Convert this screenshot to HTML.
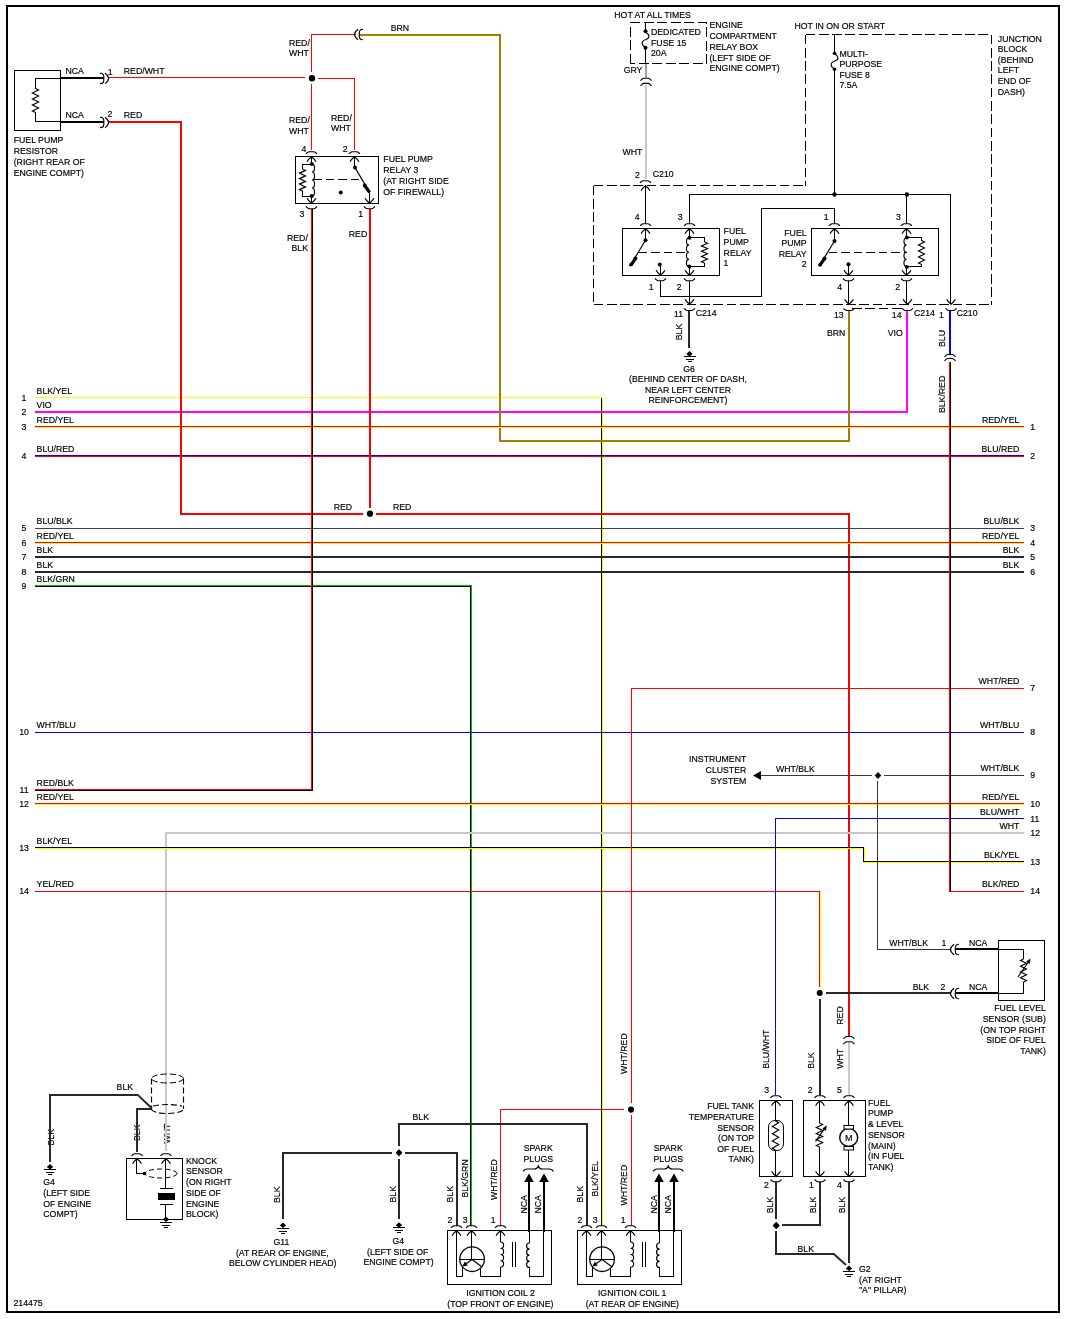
<!DOCTYPE html>
<html lang="en"><head><meta charset="utf-8"><title>Fuel pump / ignition wiring diagram</title>
<style>html,body{margin:0;padding:0;background:#fff}svg{display:block}</style></head>
<body>
<svg width="1065" height="1319" viewBox="0 0 1065 1319">
<rect width="100%" height="100%" fill="#fff"/>
<g shape-rendering="crispEdges">
<rect x="7" y="6" width="1052" height="1306" fill="none" stroke="#000" stroke-width="2"/>
<rect x="35" y="397" width="568" height="1" fill="#ffff00"/>
<rect x="601" y="398" width="1" height="828" fill="#000000"/>
<rect x="602" y="398" width="1" height="828" fill="#ffff00"/>
<rect x="35" y="411" width="873" height="2" fill="#ff00ff"/>
<rect x="906" y="311" width="2" height="102" fill="#ff00ff"/>
<rect x="360" y="34" width="141" height="2" fill="#a87c00"/>
<rect x="499" y="34" width="2" height="408" fill="#a87c00"/>
<rect x="499" y="440" width="351" height="2" fill="#a87c00"/>
<rect x="848" y="311" width="2" height="131" fill="#a87c00"/>
<rect x="35" y="426" width="989" height="1" fill="#ff0000"/>
<rect x="35" y="427" width="989" height="1" fill="#ffff00"/>
<rect x="35" y="455" width="989" height="1" fill="#0000ff"/>
<rect x="35" y="456" width="989" height="1" fill="#ff0000"/>
<rect x="108" y="121" width="74" height="2" fill="#ff0000"/>
<rect x="180" y="121" width="2" height="394" fill="#ff0000"/>
<rect x="180" y="513" width="183" height="2" fill="#ff0000"/>
<rect x="376" y="513" width="474" height="2" fill="#ff0000"/>
<rect x="369" y="209" width="2" height="299" fill="#ff0000"/>
<rect x="848" y="513" width="2" height="523" fill="#ff0000"/>
<rect x="35" y="528" width="989" height="1" fill="#404040"/>
<rect x="35" y="542" width="989" height="1" fill="#ff0000"/>
<rect x="35" y="543" width="989" height="1" fill="#ffff00"/>
<rect x="35" y="556" width="989" height="2" fill="#282828"/>
<rect x="35" y="571" width="989" height="2" fill="#282828"/>
<rect x="35" y="585" width="437" height="1" fill="#00c000"/>
<rect x="35" y="586" width="437" height="1" fill="#000000"/>
<rect x="470" y="586" width="1" height="640" fill="#000000"/>
<rect x="471" y="586" width="1" height="640" fill="#00c000"/>
<rect x="35" y="732" width="989" height="1" fill="#0000ff"/>
<rect x="311" y="209" width="1" height="582" fill="#ff0000"/>
<rect x="312" y="209" width="1" height="582" fill="#000000"/>
<rect x="35" y="789" width="277" height="1" fill="#ff0000"/>
<rect x="35" y="790" width="277" height="1" fill="#000000"/>
<rect x="35" y="803" width="989" height="1" fill="#ff0000"/>
<rect x="35" y="804" width="989" height="1" fill="#ffff00"/>
<rect x="165" y="832" width="859" height="2" fill="#c8c8c8"/>
<rect x="165" y="832" width="2" height="319" fill="#c8c8c8"/>
<rect x="35" y="847" width="830" height="1" fill="#000000"/>
<rect x="35" y="848" width="830" height="1" fill="#ffff00"/>
<rect x="863" y="847" width="1" height="16" fill="#000000"/>
<rect x="864" y="847" width="1" height="16" fill="#ffff00"/>
<rect x="863" y="861" width="161" height="1" fill="#000000"/>
<rect x="863" y="862" width="161" height="1" fill="#ffff00"/>
<rect x="35" y="891" width="786" height="1" fill="#ff0000"/>
<rect x="819" y="891" width="1" height="96" fill="#ff0000"/>
<rect x="820" y="891" width="1" height="96" fill="#ffff00"/>
<rect x="631" y="688" width="393" height="1" fill="#ff0000"/>
<rect x="631" y="688" width="1" height="415" fill="#ff0000"/>
<rect x="631" y="1115" width="1" height="111" fill="#ff0000"/>
<rect x="500" y="1109" width="124" height="1" fill="#ff0000"/>
<rect x="500" y="1109" width="1" height="117" fill="#ff0000"/>
<rect x="760" y="775" width="112" height="1" fill="#383838"/>
<rect x="884" y="775" width="140" height="1" fill="#383838"/>
<rect x="877" y="781" width="1" height="168" fill="#383838"/>
<rect x="877" y="949" width="74" height="1" fill="#383838"/>
<rect x="775" y="818" width="249" height="1" fill="#0000ff"/>
<rect x="775" y="818" width="1" height="277" fill="#0000ff"/>
<rect x="949" y="362" width="1" height="530" fill="#ff0000"/>
<rect x="950" y="362" width="1" height="530" fill="#000000"/>
<rect x="949" y="891" width="75" height="1" fill="#ff0000"/>
<rect x="949" y="311" width="2" height="43" fill="#0000ff"/>
<rect x="14.5" y="70.5" width="46" height="60" fill="none" stroke="#000000" stroke-width="1"/>
<rect x="61" y="77" width="43" height="2" fill="#000000"/>
<rect x="61" y="121" width="43" height="2" fill="#000000"/>
<rect x="35" y="78" width="26" height="1" fill="#000000"/>
<rect x="35" y="78" width="1" height="11" fill="#000000"/>
<rect x="35" y="121" width="26" height="1" fill="#000000"/>
<rect x="35" y="112" width="1" height="10" fill="#000000"/>
<rect x="108" y="77" width="197" height="1" fill="#ff0000"/>
<rect x="318" y="78" width="37" height="1" fill="#ff0000"/>
<rect x="354" y="78" width="1" height="72" fill="#ff0000"/>
<rect x="311" y="34" width="1" height="38" fill="#ff0000"/>
<rect x="311" y="84" width="1" height="66" fill="#ff0000"/>
<rect x="311" y="34" width="45" height="1" fill="#ff0000"/>
<rect x="295.5" y="156.5" width="83" height="47" fill="none" stroke="#000000" stroke-width="1"/>
<rect x="311" y="157" width="1" height="7" fill="#000000"/>
<rect x="311" y="196" width="1" height="7" fill="#000000"/>
<rect x="302" y="164" width="9" height="1" fill="#000000"/>
<rect x="302" y="164" width="1" height="5" fill="#000000"/>
<rect x="302" y="196" width="9" height="1" fill="#000000"/>
<rect x="302" y="191" width="1" height="6" fill="#000000"/>
<rect x="354" y="157" width="1" height="10" fill="#000000"/>
<rect x="369" y="192" width="1" height="11" fill="#000000"/>
<rect x="645" y="23" width="1" height="9" fill="#000000"/>
<rect x="645" y="47" width="1" height="16" fill="#000000"/>
<rect x="645" y="63" width="2" height="15" fill="#a0a0a0"/>
<rect x="645" y="85" width="2" height="94" fill="#c8c8c8"/>
<rect x="834" y="35" width="1" height="18" fill="#000000"/>
<rect x="834" y="69" width="1" height="126" fill="#000000"/>
<rect x="834" y="208" width="1" height="16" fill="#000000"/>
<rect x="834" y="229" width="1" height="12" fill="#000000"/>
<rect x="689" y="194" width="262" height="1" fill="#000000"/>
<rect x="689" y="194" width="1" height="30" fill="#000000"/>
<rect x="950" y="194" width="1" height="110" fill="#000000"/>
<rect x="906" y="194" width="1" height="30" fill="#000000"/>
<rect x="761" y="208" width="74" height="1" fill="#000000"/>
<rect x="761" y="208" width="1" height="89" fill="#000000"/>
<rect x="660" y="296" width="102" height="1" fill="#000000"/>
<rect x="660" y="281" width="1" height="16" fill="#000000"/>
<rect x="645" y="186" width="1" height="38" fill="#000000"/>
<rect x="622.5" y="228.5" width="97" height="47" fill="none" stroke="#000000" stroke-width="1"/>
<rect x="645" y="229" width="1" height="11" fill="#000000"/>
<rect x="660" y="264" width="1" height="11" fill="#000000"/>
<rect x="689" y="229" width="1" height="9" fill="#000000"/>
<rect x="689" y="266" width="1" height="9" fill="#000000"/>
<rect x="689" y="237" width="16" height="1" fill="#000000"/>
<rect x="704" y="237" width="1" height="5" fill="#000000"/>
<rect x="689" y="266" width="16" height="1" fill="#000000"/>
<rect x="704" y="263" width="1" height="4" fill="#000000"/>
<rect x="689" y="281" width="1" height="23" fill="#000000"/>
<rect x="688" y="310" width="2" height="38" fill="#282828"/>
<rect x="683.5" y="356" width="12.0" height="1" fill="#000000"/>
<rect x="685.5" y="359" width="8.0" height="1" fill="#000000"/>
<rect x="687.5" y="361" width="4.0" height="1" fill="#000000"/>
<rect x="811.5" y="228.5" width="127" height="47" fill="none" stroke="#000000" stroke-width="1"/>
<rect x="848" y="264" width="1" height="11" fill="#000000"/>
<rect x="906" y="229" width="1" height="9" fill="#000000"/>
<rect x="906" y="266" width="1" height="9" fill="#000000"/>
<rect x="906" y="237" width="16" height="1" fill="#000000"/>
<rect x="921" y="237" width="1" height="4" fill="#000000"/>
<rect x="906" y="266" width="16" height="1" fill="#000000"/>
<rect x="921" y="264" width="1" height="3" fill="#000000"/>
<rect x="848" y="281" width="1" height="23" fill="#000000"/>
<rect x="906" y="281" width="1" height="23" fill="#000000"/>
<rect x="956" y="948" width="42" height="2" fill="#000000"/>
<rect x="956" y="992" width="42" height="2" fill="#000000"/>
<rect x="998.5" y="940.5" width="46" height="60" fill="none" stroke="#000000" stroke-width="1"/>
<rect x="998" y="949" width="26" height="1" fill="#000000"/>
<rect x="1023" y="949" width="1" height="10" fill="#000000"/>
<rect x="998" y="993" width="26" height="1" fill="#000000"/>
<rect x="1023" y="982" width="1" height="12" fill="#000000"/>
<rect x="826" y="992" width="125" height="2" fill="#282828"/>
<rect x="819" y="999" width="2" height="96" fill="#282828"/>
<rect x="848" y="1042" width="2" height="53" fill="#c8c8c8"/>
<rect x="759.5" y="1100.5" width="33" height="76" fill="none" stroke="#000000" stroke-width="1"/>
<rect x="803.5" y="1100.5" width="62" height="76" fill="none" stroke="#000000" stroke-width="1"/>
<rect x="775" y="1101" width="1" height="20" fill="#000000"/>
<rect x="775" y="1150" width="1" height="26" fill="#000000"/>
<rect x="819" y="1101" width="1" height="22" fill="#000000"/>
<rect x="819" y="1147" width="1" height="29" fill="#000000"/>
<rect x="848" y="1101" width="1" height="25" fill="#000000"/>
<rect x="848" y="1150" width="1" height="26" fill="#000000"/>
<rect x="775" y="1182" width="2" height="37" fill="#282828"/>
<rect x="819" y="1182" width="2" height="44" fill="#282828"/>
<rect x="848" y="1182" width="2" height="81" fill="#282828"/>
<rect x="782" y="1224" width="39" height="2" fill="#282828"/>
<rect x="775" y="1231" width="2" height="24" fill="#282828"/>
<rect x="775" y="1253" width="59" height="2" fill="#282828"/>
<rect x="843" y="1270.5" width="12" height="1" fill="#000000"/>
<rect x="845" y="1273.5" width="8" height="1" fill="#000000"/>
<rect x="847" y="1275.5" width="4" height="1" fill="#000000"/>
<rect x="49" y="1094" width="89" height="2" fill="#282828"/>
<rect x="49" y="1094" width="2" height="68" fill="#282828"/>
<rect x="136" y="1108" width="16" height="2" fill="#282828"/>
<rect x="136" y="1108" width="2" height="44" fill="#282828"/>
<rect x="44" y="1169" width="12" height="1" fill="#000000"/>
<rect x="46" y="1172" width="8" height="1" fill="#000000"/>
<rect x="48" y="1174" width="4" height="1" fill="#000000"/>
<rect x="126.5" y="1158.5" width="56" height="61" fill="none" stroke="#000000" stroke-width="1"/>
<rect x="136" y="1159" width="1" height="15" fill="#000000"/>
<rect x="136" y="1173" width="8" height="1" fill="#000000"/>
<rect x="165" y="1159" width="1" height="30" fill="#000000"/>
<rect x="160" y="1188" width="13" height="1" fill="#000000"/>
<rect x="158" y="1193" width="17" height="7" fill="#000000"/>
<rect x="160" y="1204" width="13" height="1" fill="#000000"/>
<rect x="165" y="1204" width="1" height="15" fill="#000000"/>
<rect x="160" y="1221.5" width="12" height="1" fill="#000000"/>
<rect x="162" y="1224.5" width="8" height="1" fill="#000000"/>
<rect x="164" y="1226.5" width="4" height="1" fill="#000000"/>
<rect x="282" y="1152" width="110" height="2" fill="#282828"/>
<rect x="282" y="1152" width="2" height="67" fill="#282828"/>
<rect x="277" y="1227.5" width="12" height="1" fill="#000000"/>
<rect x="279" y="1230.5" width="8" height="1" fill="#000000"/>
<rect x="281" y="1232.5" width="4" height="1" fill="#000000"/>
<rect x="398" y="1123" width="190" height="2" fill="#282828"/>
<rect x="398" y="1123" width="2" height="23" fill="#282828"/>
<rect x="398" y="1159" width="2" height="60" fill="#282828"/>
<rect x="405" y="1152" width="53" height="2" fill="#282828"/>
<rect x="456" y="1152" width="2" height="74" fill="#282828"/>
<rect x="586" y="1123" width="2" height="103" fill="#282828"/>
<rect x="393" y="1227.2" width="12" height="1" fill="#000000"/>
<rect x="395" y="1230.2" width="8" height="1" fill="#000000"/>
<rect x="397" y="1232.2" width="4" height="1" fill="#000000"/>
<rect x="447.5" y="1230.5" width="104" height="54" fill="none" stroke="#000000" stroke-width="1"/>
<rect x="528" y="1181" width="2" height="51" fill="#000000"/>
<rect x="529" y="1232" width="1" height="11" fill="#000000"/>
<rect x="543" y="1181" width="2" height="51" fill="#000000"/>
<rect x="543" y="1232" width="1" height="11" fill="#000000"/>
<rect x="456" y="1231" width="1" height="46" fill="#000000"/>
<rect x="456" y="1276" width="7" height="1" fill="#000000"/>
<rect x="462" y="1266" width="1" height="11" fill="#000000"/>
<rect x="471" y="1231" width="1" height="28" fill="#000000"/>
<rect x="460" y="1259" width="25" height="1" fill="#000000"/>
<rect x="480" y="1268" width="1" height="9" fill="#000000"/>
<rect x="480" y="1276" width="21" height="1" fill="#000000"/>
<rect x="500" y="1267" width="1" height="10" fill="#000000"/>
<rect x="500" y="1231" width="1" height="11" fill="#000000"/>
<rect x="512" y="1242" width="1" height="25" fill="#000000"/>
<rect x="515" y="1242" width="1" height="25" fill="#000000"/>
<rect x="529" y="1267" width="1" height="10" fill="#000000"/>
<rect x="529" y="1276" width="15" height="1" fill="#000000"/>
<rect x="543" y="1231" width="1" height="46" fill="#000000"/>
<rect x="577.5" y="1230.5" width="104" height="54" fill="none" stroke="#000000" stroke-width="1"/>
<rect x="658" y="1181" width="2" height="51" fill="#000000"/>
<rect x="659" y="1232" width="1" height="11" fill="#000000"/>
<rect x="673" y="1181" width="2" height="51" fill="#000000"/>
<rect x="673" y="1232" width="1" height="11" fill="#000000"/>
<rect x="586" y="1231" width="1" height="46" fill="#000000"/>
<rect x="586" y="1276" width="7" height="1" fill="#000000"/>
<rect x="592" y="1266" width="1" height="11" fill="#000000"/>
<rect x="601" y="1231" width="1" height="28" fill="#000000"/>
<rect x="590" y="1259" width="25" height="1" fill="#000000"/>
<rect x="610" y="1268" width="1" height="9" fill="#000000"/>
<rect x="610" y="1276" width="21" height="1" fill="#000000"/>
<rect x="630" y="1267" width="1" height="10" fill="#000000"/>
<rect x="630" y="1231" width="1" height="11" fill="#000000"/>
<rect x="642" y="1242" width="1" height="25" fill="#000000"/>
<rect x="645" y="1242" width="1" height="25" fill="#000000"/>
<rect x="659" y="1267" width="1" height="10" fill="#000000"/>
<rect x="659" y="1276" width="15" height="1" fill="#000000"/>
<rect x="673" y="1231" width="1" height="46" fill="#000000"/>
</g>
<g stroke-linecap="butt" stroke-linejoin="miter">
<path d="M35.5,88.4 L38.6,89.91 L32.4,92.94 L38.6,95.96 L32.4,98.99 L38.6,102.01 L32.4,105.04 L38.6,108.06 L32.4,111.09 L35.5,112.6" fill="none" stroke="#000000" stroke-width="1.15" />
<path d="M100,73.2 L102,73.4 Q103.8,74.4 103.8,76.4 L103.8,80.4 Q103.8,82.4 102,83.4 L100,83.60000000000001" fill="none" stroke="#000000" stroke-width="1.15" />
<path d="M105,73.2 Q108.6,75.9 108.6,78.4 Q108.6,80.9 105,83.60000000000001" fill="none" stroke="#000000" stroke-width="1.15" />
<path d="M100,117.2 L102,117.4 Q103.8,118.4 103.8,120.4 L103.8,124.4 Q103.8,126.4 102,127.4 L100,127.60000000000001" fill="none" stroke="#000000" stroke-width="1.15" />
<path d="M105,117.2 Q108.6,119.9 108.6,122.4 Q108.6,124.9 105,127.60000000000001" fill="none" stroke="#000000" stroke-width="1.15" />
<circle cx="312" cy="78.3" r="3.2" fill="#000000"/>
<path d="M358.1,29.3 Q354.5,32.0 354.5,34.5 Q354.5,37.0 358.1,39.7" fill="none" stroke="#000000" stroke-width="1.15" />
<path d="M363.1,29.3 L361.1,29.5 Q359.3,30.5 359.3,32.5 L359.3,36.5 Q359.3,38.5 361.1,39.5 L363.1,39.7" fill="none" stroke="#000000" stroke-width="1.15" />
<path d="M306.0,153.9 L307.5,152.5 Q308.3,151.7 309.3,151.7 L313.7,151.7 Q314.7,151.7 315.5,152.5 L317.0,153.9" fill="none" stroke="#000000" stroke-width="1.15" />
<path d="M307.1,161.7 Q308.1,159.5 311.5,156.8 Q314.9,159.5 315.9,161.7" fill="none" stroke="#000000" stroke-width="1.15" />
<path d="M349.0,153.9 L350.5,152.5 Q351.3,151.7 352.3,151.7 L356.7,151.7 Q357.7,151.7 358.5,152.5 L360.0,153.9" fill="none" stroke="#000000" stroke-width="1.15" />
<path d="M350.1,161.7 Q351.1,159.5 354.5,156.8 Q357.9,159.5 358.9,161.7" fill="none" stroke="#000000" stroke-width="1.15" />
<path d="M306.0,206.5 L307.5,207.9 Q308.3,208.70000000000002 309.3,208.70000000000002 L313.7,208.70000000000002 Q314.7,208.70000000000002 315.5,207.9 L317.0,206.5" fill="none" stroke="#000000" stroke-width="1.15" />
<path d="M307.1,198.3 Q308.1,200.5 311.5,203.2 Q314.9,200.5 315.9,198.3" fill="none" stroke="#000000" stroke-width="1.15" />
<path d="M364.0,206.5 L365.5,207.9 Q366.3,208.70000000000002 367.3,208.70000000000002 L371.7,208.70000000000002 Q372.7,208.70000000000002 373.5,207.9 L375.0,206.5" fill="none" stroke="#000000" stroke-width="1.15" />
<path d="M365.1,198.3 Q366.1,200.5 369.5,203.2 Q372.9,200.5 373.9,198.3" fill="none" stroke="#000000" stroke-width="1.15" />
<circle cx="311.7" cy="164" r="2" fill="#000000"/>
<circle cx="311.7" cy="196" r="2" fill="#000000"/>
<path d="M302.5,169 L305.5,170.38 L299.5,173.12 L305.5,175.88 L299.5,178.62 L305.5,181.38 L299.5,184.12 L305.5,186.88 L299.5,189.62 L302.5,191" fill="none" stroke="#000000" stroke-width="1.15" />
<path d="M312,164 C315.38,164.00 315.38,172.00 312,172.00 C315.38,172.00 315.38,180.00 312,180.00 C315.38,180.00 315.38,188.00 312,188.00 C315.38,188.00 315.38,196.00 312,196.00" fill="none" stroke="#000000" stroke-width="1.15" />
<path d="M313,179.5 L362,179.5" fill="none" stroke="#000000" stroke-width="1" stroke-dasharray="8.5 4" shape-rendering="crispEdges"/>
<circle cx="340.8" cy="192.4" r="2" fill="#000000"/>
<circle cx="355" cy="167.6" r="2" fill="#000000"/>
<path d="M355,167.6 L369.6,192.4" fill="none" stroke="#000000" stroke-width="1.15" />
<path d="M364.5,185.3 L369.6,192.4" fill="none" stroke="#000000" stroke-width="3.2" />
<circle cx="364.8" cy="185.6" r="2" fill="#000000"/>
<circle cx="370" cy="513.7" r="3.1" fill="#000000"/>
<path d="M630.5,63.5 L630.5,22.5 L706.5,22.5 L706.5,63.5 L630.5,63.5" fill="none" stroke="#000000" stroke-width="1" stroke-dasharray="10 3.5" shape-rendering="crispEdges"/>
<circle cx="645.5" cy="31.3" r="2" fill="#000000"/>
<circle cx="645.5" cy="47.8" r="2" fill="#000000"/>
<path d="M645.5,32 C650,35 650,38 646,39.5 C641,41 641,45 645.5,47.5" fill="none" stroke="#000000" stroke-width="1.15" />
<path d="M640.5,80.60000000000001 L642,79.10000000000001 Q642.8,78.2 643.8,78.2 L648.2,78.2 Q649.2,78.2 650,79.10000000000001 L651.5,80.60000000000001" fill="none" stroke="#000000" stroke-width="1.15" />
<path d="M640.5,85.80000000000001 L642,84.30000000000001 Q642.8,83.4 643.8,83.4 L648.2,83.4 Q649.2,83.4 650,84.30000000000001 L651.5,85.80000000000001" fill="none" stroke="#000000" stroke-width="1.15" />
<path d="M805.5,34.5 L992,34.5" fill="none" stroke="#000000" stroke-width="1" stroke-dasharray="9.7 3.6" shape-rendering="crispEdges"/>
<path d="M805.5,34.5 L805.5,186" fill="none" stroke="#000000" stroke-width="1" stroke-dasharray="9.7 3.6" shape-rendering="crispEdges"/>
<path d="M991.5,34.5 L991.5,305" fill="none" stroke="#000000" stroke-width="1" stroke-dasharray="9.7 3.6" shape-rendering="crispEdges"/>
<path d="M593.5,185.5 L806,185.5" fill="none" stroke="#000000" stroke-width="1" stroke-dasharray="9.7 3.6" shape-rendering="crispEdges"/>
<path d="M593.5,185.5 L593.5,305" fill="none" stroke="#000000" stroke-width="1" stroke-dasharray="9.7 3.6" shape-rendering="crispEdges"/>
<path d="M593.5,304.5 L992,304.5" fill="none" stroke="#000000" stroke-width="1" stroke-dasharray="9.7 3.6" shape-rendering="crispEdges"/>
<path d="M852,308.5 L903,308.5" fill="none" stroke="#000000" stroke-width="1" stroke-dasharray="9.7 3.6" shape-rendering="crispEdges"/>
<circle cx="834.5" cy="53.3" r="1.8" fill="#000000"/>
<circle cx="834.5" cy="69.2" r="1.8" fill="#000000"/>
<path d="M834.5,53.5 C839,56.5 839,59.5 835,61 C830,62.5 830,66.5 834.5,69" fill="none" stroke="#000000" stroke-width="1.15" />
<circle cx="834.5" cy="194.5" r="2.2" fill="#000000"/>
<circle cx="906.9" cy="194.5" r="2.2" fill="#000000"/>
<path d="M640.0,182.9 L641.5,181.5 Q642.3,180.7 643.3,180.7 L647.7,180.7 Q648.7,180.7 649.5,181.5 L651.0,182.9" fill="none" stroke="#000000" stroke-width="1.15" />
<path d="M641.1,190.7 Q642.1,188.5 645.5,185.8 Q648.9,188.5 649.9,190.7" fill="none" stroke="#000000" stroke-width="1.15" />
<path d="M640.0,225.9 L641.5,224.5 Q642.3,223.7 643.3,223.7 L647.7,223.7 Q648.7,223.7 649.5,224.5 L651.0,225.9" fill="none" stroke="#000000" stroke-width="1.15" />
<path d="M641.1,233.7 Q642.1,231.5 645.5,228.8 Q648.9,231.5 649.9,233.7" fill="none" stroke="#000000" stroke-width="1.15" />
<path d="M684.0,225.9 L685.5,224.5 Q686.3,223.7 687.3,223.7 L691.7,223.7 Q692.7,223.7 693.5,224.5 L695.0,225.9" fill="none" stroke="#000000" stroke-width="1.15" />
<path d="M685.1,233.7 Q686.1,231.5 689.5,228.8 Q692.9,231.5 693.9,233.7" fill="none" stroke="#000000" stroke-width="1.15" />
<path d="M655.0,278.5 L656.5,279.9 Q657.3,280.7 658.3,280.7 L662.7,280.7 Q663.7,280.7 664.5,279.9 L666.0,278.5" fill="none" stroke="#000000" stroke-width="1.15" />
<path d="M656.1,270.3 Q657.1,272.5 660.5,275.2 Q663.9,272.5 664.9,270.3" fill="none" stroke="#000000" stroke-width="1.15" />
<path d="M684.0,278.5 L685.5,279.9 Q686.3,280.7 687.3,280.7 L691.7,280.7 Q692.7,280.7 693.5,279.9 L695.0,278.5" fill="none" stroke="#000000" stroke-width="1.15" />
<path d="M685.1,270.3 Q686.1,272.5 689.5,275.2 Q692.9,272.5 693.9,270.3" fill="none" stroke="#000000" stroke-width="1.15" />
<circle cx="645.5" cy="240.2" r="2" fill="#000000"/>
<path d="M645.5,240.2 L630.6,265" fill="none" stroke="#000000" stroke-width="1.15" />
<path d="M635.6,258.3 L631,265" fill="none" stroke="#000000" stroke-width="3.2" />
<circle cx="635.4" cy="258.6" r="2" fill="#000000"/>
<circle cx="630.8" cy="264.8" r="1.8" fill="#000000"/>
<path d="M638.5,252.5 L689,252.5" fill="none" stroke="#000000" stroke-width="1" stroke-dasharray="8.5 4" shape-rendering="crispEdges"/>
<circle cx="659.8" cy="264.6" r="2" fill="#000000"/>
<circle cx="689.5" cy="237.8" r="2" fill="#000000"/>
<circle cx="689.5" cy="266.5" r="2" fill="#000000"/>
<path d="M689,238 C685.62,238.00 685.62,245.12 689,245.12 C685.62,245.12 685.62,252.25 689,252.25 C685.62,252.25 685.62,259.38 689,259.38 C685.62,259.38 685.62,266.50 689,266.50" fill="none" stroke="#000000" stroke-width="1.15" />
<path d="M704.5,242 L707.5,243.31 L701.5,245.94 L707.5,248.56 L701.5,251.19 L707.5,253.81 L701.5,256.44 L707.5,259.06 L701.5,261.69 L704.5,263" fill="none" stroke="#000000" stroke-width="1.15" />
<path d="M684.0,308.3 L685.5,309.7 Q686.3,310.5 687.3,310.5 L691.7,310.5 Q692.7,310.5 693.5,309.7 L695.0,308.3" fill="none" stroke="#000000" stroke-width="1.15" />
<path d="M685.1,299.3 Q686.1,301.5 689.5,304.2 Q692.9,301.5 693.9,299.3" fill="none" stroke="#000000" stroke-width="1.15" />
<path d="M689.5,351 L692.7,354 L689.5,356.5 L686.3,354 Z" fill="#000"/>
<path d="M829.0,225.9 L830.5,224.5 Q831.3,223.7 832.3,223.7 L836.7,223.7 Q837.7,223.7 838.5,224.5 L840.0,225.9" fill="none" stroke="#000000" stroke-width="1.15" />
<path d="M830.1,233.7 Q831.1,231.5 834.5,228.8 Q837.9,231.5 838.9,233.7" fill="none" stroke="#000000" stroke-width="1.15" />
<path d="M901.0,225.9 L902.5,224.5 Q903.3,223.7 904.3,223.7 L908.7,223.7 Q909.7,223.7 910.5,224.5 L912.0,225.9" fill="none" stroke="#000000" stroke-width="1.15" />
<path d="M902.1,233.7 Q903.1,231.5 906.5,228.8 Q909.9,231.5 910.9,233.7" fill="none" stroke="#000000" stroke-width="1.15" />
<path d="M843.0,278.5 L844.5,279.9 Q845.3,280.7 846.3,280.7 L850.7,280.7 Q851.7,280.7 852.5,279.9 L854.0,278.5" fill="none" stroke="#000000" stroke-width="1.15" />
<path d="M844.1,270.3 Q845.1,272.5 848.5,275.2 Q851.9,272.5 852.9,270.3" fill="none" stroke="#000000" stroke-width="1.15" />
<path d="M901.0,278.5 L902.5,279.9 Q903.3,280.7 904.3,280.7 L908.7,280.7 Q909.7,280.7 910.5,279.9 L912.0,278.5" fill="none" stroke="#000000" stroke-width="1.15" />
<path d="M902.1,270.3 Q903.1,272.5 906.5,275.2 Q909.9,272.5 910.9,270.3" fill="none" stroke="#000000" stroke-width="1.15" />
<circle cx="834.5" cy="241" r="2" fill="#000000"/>
<path d="M834.5,241 L819.7,265.2" fill="none" stroke="#000000" stroke-width="1.15" />
<path d="M824.7,258.3 L820,265.2" fill="none" stroke="#000000" stroke-width="3.2" />
<circle cx="824.5" cy="258.6" r="2" fill="#000000"/>
<circle cx="819.9" cy="265" r="1.8" fill="#000000"/>
<path d="M828.5,252.5 L907,252.5" fill="none" stroke="#000000" stroke-width="1" stroke-dasharray="8.5 4" shape-rendering="crispEdges"/>
<circle cx="848.5" cy="264.3" r="2" fill="#000000"/>
<circle cx="906.9" cy="237.6" r="2" fill="#000000"/>
<circle cx="906.9" cy="266.9" r="2" fill="#000000"/>
<path d="M906.5,238 C903.12,238.00 903.12,245.12 906.5,245.12 C903.12,245.12 903.12,252.25 906.5,252.25 C903.12,252.25 903.12,259.38 906.5,259.38 C903.12,259.38 903.12,266.50 906.5,266.50" fill="none" stroke="#000000" stroke-width="1.15" />
<path d="M921.5,240.5 L924.5,242.00 L918.5,245.00 L924.5,248.00 L918.5,251.00 L924.5,254.00 L918.5,257.00 L924.5,260.00 L918.5,263.00 L921.5,264.5" fill="none" stroke="#000000" stroke-width="1.15" />
<path d="M843.5,308.3 L845.0,309.7 Q845.8,310.5 846.8,310.5 L851.2,310.5 Q852.2,310.5 853.0,309.7 L854.5,308.3" fill="none" stroke="#000000" stroke-width="1.15" />
<path d="M844.6,299.3 Q845.6,301.5 849.0,304.2 Q852.4,301.5 853.4,299.3" fill="none" stroke="#000000" stroke-width="1.15" />
<path d="M902.0,308.3 L903.5,309.7 Q904.3,310.5 905.3,310.5 L909.7,310.5 Q910.7,310.5 911.5,309.7 L913.0,308.3" fill="none" stroke="#000000" stroke-width="1.15" />
<path d="M903.1,299.3 Q904.1,301.5 907.5,304.2 Q910.9,301.5 911.9,299.3" fill="none" stroke="#000000" stroke-width="1.15" />
<path d="M945.5,308.3 L947.0,309.7 Q947.8,310.5 948.8,310.5 L953.2,310.5 Q954.2,310.5 955.0,309.7 L956.5,308.3" fill="none" stroke="#000000" stroke-width="1.15" />
<path d="M946.6,299.3 Q947.6,301.5 951.0,304.2 Q954.4,301.5 955.4,299.3" fill="none" stroke="#000000" stroke-width="1.15" />
<path d="M944.5,356.9 L946,355.4 Q946.8,354.5 947.8,354.5 L952.2,354.5 Q953.2,354.5 954,355.4 L955.5,356.9" fill="none" stroke="#000000" stroke-width="1.15" />
<path d="M944.5,360.9 L946,359.4 Q946.8,358.5 947.8,358.5 L952.2,358.5 Q953.2,358.5 954,359.4 L955.5,360.9" fill="none" stroke="#000000" stroke-width="1.15" />
<path d="M753,775.5 L761,771 L761,780 Z" fill="#000"/>
<path d="M878,772 L881.3,775.5 L878,779 L874.7,775.5 Z" fill="#000"/>
<path d="M954.1,944.3 Q950.5,947.0 950.5,949.5 Q950.5,952.0 954.1,954.7" fill="none" stroke="#000000" stroke-width="1.15" />
<path d="M959.1,944.3 L957.1,944.5 Q955.3,945.5 955.3,947.5 L955.3,951.5 Q955.3,953.5 957.1,954.5 L959.1,954.7" fill="none" stroke="#000000" stroke-width="1.15" />
<path d="M954.1,988.3 Q950.5,991.0 950.5,993.5 Q950.5,996.0 954.1,998.7" fill="none" stroke="#000000" stroke-width="1.15" />
<path d="M959.1,988.3 L957.1,988.5 Q955.3,989.5 955.3,991.5 L955.3,995.5 Q955.3,997.5 957.1,998.5 L959.1,998.7" fill="none" stroke="#000000" stroke-width="1.15" />
<path d="M1023.5,959 L1020.5,960.44 L1026.5,963.31 L1020.5,966.19 L1026.5,969.06 L1020.5,971.94 L1026.5,974.81 L1020.5,977.69 L1026.5,980.56 L1023.5,982" fill="none" stroke="#000000" stroke-width="1.15" />
<path d="M1018,977 L1029,961" fill="none" stroke="#000000" stroke-width="1.15" />
<path d="M1030.5,958.5 L1029.8,964 L1026.2,961.5 Z" fill="#000"/>
<circle cx="819.7" cy="993.1" r="3" fill="#000000"/>
<path d="M843.5,1038.9 L845,1037.4 Q845.8,1036.5 846.8,1036.5 L851.2,1036.5 Q852.2,1036.5 853,1037.4 L854.5,1038.9" fill="none" stroke="#000000" stroke-width="1.15" />
<path d="M843.5,1044.1000000000001 L845,1042.6000000000001 Q845.8,1041.7 846.8,1041.7 L851.2,1041.7 Q852.2,1041.7 853,1042.6000000000001 L854.5,1044.1000000000001" fill="none" stroke="#000000" stroke-width="1.15" />
<path d="M770.5,1097.9 L772.0,1096.5 Q772.8,1095.7 773.8,1095.7 L778.2,1095.7 Q779.2,1095.7 780.0,1096.5 L781.5,1097.9" fill="none" stroke="#000000" stroke-width="1.15" />
<path d="M771.6,1105.7 Q772.6,1103.5 776.0,1100.8 Q779.4,1103.5 780.4,1105.7" fill="none" stroke="#000000" stroke-width="1.15" />
<path d="M770.5,1179.5 L772.0,1180.9 Q772.8,1181.7 773.8,1181.7 L778.2,1181.7 Q779.2,1181.7 780.0,1180.9 L781.5,1179.5" fill="none" stroke="#000000" stroke-width="1.15" />
<path d="M771.6,1171.3 Q772.6,1173.5 776.0,1176.2 Q779.4,1173.5 780.4,1171.3" fill="none" stroke="#000000" stroke-width="1.15" />
<path d="M814.5,1097.9 L816.0,1096.5 Q816.8,1095.7 817.8,1095.7 L822.2,1095.7 Q823.2,1095.7 824.0,1096.5 L825.5,1097.9" fill="none" stroke="#000000" stroke-width="1.15" />
<path d="M815.6,1105.7 Q816.6,1103.5 820.0,1100.8 Q823.4,1103.5 824.4,1105.7" fill="none" stroke="#000000" stroke-width="1.15" />
<path d="M814.5,1179.5 L816.0,1180.9 Q816.8,1181.7 817.8,1181.7 L822.2,1181.7 Q823.2,1181.7 824.0,1180.9 L825.5,1179.5" fill="none" stroke="#000000" stroke-width="1.15" />
<path d="M815.6,1171.3 Q816.6,1173.5 820.0,1176.2 Q823.4,1173.5 824.4,1171.3" fill="none" stroke="#000000" stroke-width="1.15" />
<path d="M843.5,1097.9 L845.0,1096.5 Q845.8,1095.7 846.8,1095.7 L851.2,1095.7 Q852.2,1095.7 853.0,1096.5 L854.5,1097.9" fill="none" stroke="#000000" stroke-width="1.15" />
<path d="M844.6,1105.7 Q845.6,1103.5 849.0,1100.8 Q852.4,1103.5 853.4,1105.7" fill="none" stroke="#000000" stroke-width="1.15" />
<path d="M843.5,1179.5 L845.0,1180.9 Q845.8,1181.7 846.8,1181.7 L851.2,1181.7 Q852.2,1181.7 853.0,1180.9 L854.5,1179.5" fill="none" stroke="#000000" stroke-width="1.15" />
<path d="M844.6,1171.3 Q845.6,1173.5 849.0,1176.2 Q852.4,1173.5 853.4,1171.3" fill="none" stroke="#000000" stroke-width="1.15" />
<rect x="768.5" y="1120.5" width="15" height="30" rx="6.5" ry="6.5" fill="none" stroke="#000"/>
<path d="M775.5,1121 L778.7,1122.81 L772.3,1126.44 L778.7,1130.06 L772.3,1133.69 L778.7,1137.31 L772.3,1140.94 L778.7,1144.56 L772.3,1148.19 L775.5,1150" fill="none" stroke="#000000" stroke-width="1.15" />
<path d="M819.5,1123 L822.7,1124.50 L816.3,1127.50 L822.7,1130.50 L816.3,1133.50 L822.7,1136.50 L816.3,1139.50 L822.7,1142.50 L816.3,1145.50 L819.5,1147" fill="none" stroke="#000000" stroke-width="1.15" />
<path d="M815.5,1141.5 L825,1128" fill="none" stroke="#000000" stroke-width="1.15" />
<path d="M826.8,1125.2 L826,1131 L822.4,1128.4 Z" fill="#000"/>
<circle cx="848.7" cy="1137.5" r="9" fill="#fff" stroke="#000" stroke-width="1.4"/>
<rect x="844" y="1125.5" width="9.5" height="3.5" fill="#fff" stroke="#000"/>
<rect x="844" y="1146.5" width="9.5" height="3.5" fill="#fff" stroke="#000"/>
<path d="M776.2,1221.8 L779.8,1225.5 L776.2,1229.3 L772.6,1225.5 Z" fill="#000"/>
<path d="M833.5,1253.8 L846,1265" fill="none" stroke="#282828" stroke-width="2" />
<path d="M849,1265.5 L852.2,1268.5 L849,1271.0 L845.8,1268.5 Z" fill="#000"/>
<path d="M151.5,1078.5 L151.5,1109 M183.5,1078.5 L183.5,1109" fill="none" stroke="#000000" stroke-width="1.15" stroke-dasharray="6 3"/>
<ellipse cx="167.5" cy="1078.5" rx="16" ry="4.5" fill="none" stroke="#000" stroke-dasharray="6 3"/>
<path d="M151.5,1109 A16,4.5 0 0 0 183.5,1109" fill="none" stroke="#000000" stroke-width="1.15" stroke-dasharray="6 3"/>
<path d="M153,1106 Q167.5,1103 182,1106" fill="none" stroke="#000000" stroke-width="1.15" stroke-dasharray="6 3"/>
<path d="M137.5,1094.6 L152,1108.5" fill="none" stroke="#282828" stroke-width="2" />
<path d="M50,1164 L53.2,1167 L50,1169.5 L46.8,1167 Z" fill="#000"/>
<path d="M131.5,1155.9 L133,1154.5 Q133.8,1153.7 134.8,1153.7 L139.2,1153.7 Q140.2,1153.7 141,1154.5 L142.5,1155.9" fill="none" stroke="#000000" stroke-width="1.15" />
<path d="M132.6,1163.7 Q133.6,1161.5 137,1158.8 Q140.4,1161.5 141.4,1163.7" fill="none" stroke="#000000" stroke-width="1.15" />
<path d="M160.5,1155.9 L162,1154.5 Q162.8,1153.7 163.8,1153.7 L168.2,1153.7 Q169.2,1153.7 170,1154.5 L171.5,1155.9" fill="none" stroke="#000000" stroke-width="1.15" />
<path d="M161.6,1163.7 Q162.6,1161.5 166,1158.8 Q169.4,1161.5 170.4,1163.7" fill="none" stroke="#000000" stroke-width="1.15" />
<circle cx="144.5" cy="1173.5" r="1.8" fill="#000000"/>
<ellipse cx="161" cy="1173.5" rx="16" ry="4.5" fill="none" stroke="#000" stroke-dasharray="5 3"/>
<path d="M166,1216.5 L169.2,1219.5 L166,1222.0 L162.8,1219.5 Z" fill="#000"/>
<path d="M283,1222.5 L286.2,1225.5 L283,1228.0 L279.8,1225.5 Z" fill="#000"/>
<path d="M399,1149 L402.4,1152.8 L399,1156.4 L395.6,1152.8 Z" fill="#000"/>
<path d="M399,1222.2 L402.2,1225.2 L399,1227.7 L395.8,1225.2 Z" fill="#000"/>
<circle cx="631" cy="1109.6" r="3.1" fill="#000000"/>
<path d="M451.0,1227.9 L452.5,1226.5 Q453.3,1225.7 454.3,1225.7 L458.7,1225.7 Q459.7,1225.7 460.5,1226.5 L462.0,1227.9" fill="none" stroke="#000000" stroke-width="1.15" />
<path d="M452.1,1235.7 Q453.1,1233.5 456.5,1230.8 Q459.9,1233.5 460.9,1235.7" fill="none" stroke="#000000" stroke-width="1.15" />
<path d="M466.0,1227.9 L467.5,1226.5 Q468.3,1225.7 469.3,1225.7 L473.7,1225.7 Q474.7,1225.7 475.5,1226.5 L477.0,1227.9" fill="none" stroke="#000000" stroke-width="1.15" />
<path d="M467.1,1235.7 Q468.1,1233.5 471.5,1230.8 Q474.9,1233.5 475.9,1235.7" fill="none" stroke="#000000" stroke-width="1.15" />
<path d="M495.0,1227.9 L496.5,1226.5 Q497.3,1225.7 498.3,1225.7 L502.7,1225.7 Q503.7,1225.7 504.5,1226.5 L506.0,1227.9" fill="none" stroke="#000000" stroke-width="1.15" />
<path d="M496.1,1235.7 Q497.1,1233.5 500.5,1230.8 Q503.9,1233.5 504.9,1235.7" fill="none" stroke="#000000" stroke-width="1.15" />
<path d="M529,1173.5 L533.8,1182 L524.2,1182 Z" fill="#000"/>
<path d="M544,1173.5 L548.8,1182 L539.2,1182 Z" fill="#000"/>
<path d="M523.25,1171.5 Q524.25,1169 527.25,1169 L534.25,1169 Q537.25,1169 538.25,1166 Q539.25,1169 542.25,1169 L549.25,1169 Q552.25,1169 553.25,1171.5" fill="none" stroke="#000000" stroke-width="1.15" />
<circle cx="472.1" cy="1259.2" r="12.3" fill="none" stroke="#000" stroke-width="1.3"/>
<path d="M472.1,1259.5 L482.40000000000003,1267.2" fill="none" stroke="#000000" stroke-width="1.15" />
<path d="M472.1,1259.5 L464.1,1265" fill="none" stroke="#000000" stroke-width="1.15" />
<path d="M462.3,1266.6 L467.70000000000005,1265.6 L464.90000000000003,1261.6 Z" fill="#000"/>
<path d="M500.5,1242 C504.66,1242.00 504.66,1248.25 500.5,1248.25 C504.66,1248.25 504.66,1254.50 500.5,1254.50 C504.66,1254.50 504.66,1260.75 500.5,1260.75 C504.66,1260.75 504.66,1267.00 500.5,1267.00" fill="none" stroke="#000000" stroke-width="1.15" />
<path d="M529.5,1243 C525.6,1243.00 525.6,1249.12 529.5,1249.12 C525.6,1249.12 525.6,1255.25 529.5,1255.25 C525.6,1255.25 525.6,1261.38 529.5,1261.38 C525.6,1261.38 525.6,1267.50 529.5,1267.50" fill="none" stroke="#000000" stroke-width="1.15" />
<path d="M581.0,1227.9 L582.5,1226.5 Q583.3,1225.7 584.3,1225.7 L588.7,1225.7 Q589.7,1225.7 590.5,1226.5 L592.0,1227.9" fill="none" stroke="#000000" stroke-width="1.15" />
<path d="M582.1,1235.7 Q583.1,1233.5 586.5,1230.8 Q589.9,1233.5 590.9,1235.7" fill="none" stroke="#000000" stroke-width="1.15" />
<path d="M596.0,1227.9 L597.5,1226.5 Q598.3,1225.7 599.3,1225.7 L603.7,1225.7 Q604.7,1225.7 605.5,1226.5 L607.0,1227.9" fill="none" stroke="#000000" stroke-width="1.15" />
<path d="M597.1,1235.7 Q598.1,1233.5 601.5,1230.8 Q604.9,1233.5 605.9,1235.7" fill="none" stroke="#000000" stroke-width="1.15" />
<path d="M625.0,1227.9 L626.5,1226.5 Q627.3,1225.7 628.3,1225.7 L632.7,1225.7 Q633.7,1225.7 634.5,1226.5 L636.0,1227.9" fill="none" stroke="#000000" stroke-width="1.15" />
<path d="M626.1,1235.7 Q627.1,1233.5 630.5,1230.8 Q633.9,1233.5 634.9,1235.7" fill="none" stroke="#000000" stroke-width="1.15" />
<path d="M659,1173.5 L663.8,1182 L654.2,1182 Z" fill="#000"/>
<path d="M674,1173.5 L678.8,1182 L669.2,1182 Z" fill="#000"/>
<path d="M653.25,1171.5 Q654.25,1169 657.25,1169 L664.25,1169 Q667.25,1169 668.25,1166 Q669.25,1169 672.25,1169 L679.25,1169 Q682.25,1169 683.25,1171.5" fill="none" stroke="#000000" stroke-width="1.15" />
<circle cx="602.1" cy="1259.2" r="12.3" fill="none" stroke="#000" stroke-width="1.3"/>
<path d="M602.1,1259.5 L612.4,1267.2" fill="none" stroke="#000000" stroke-width="1.15" />
<path d="M602.1,1259.5 L594.1,1265" fill="none" stroke="#000000" stroke-width="1.15" />
<path d="M592.3000000000001,1266.6 L597.7,1265.6 L594.9,1261.6 Z" fill="#000"/>
<path d="M630.5,1242 C634.66,1242.00 634.66,1248.25 630.5,1248.25 C634.66,1248.25 634.66,1254.50 630.5,1254.50 C634.66,1254.50 634.66,1260.75 630.5,1260.75 C634.66,1260.75 634.66,1267.00 630.5,1267.00" fill="none" stroke="#000000" stroke-width="1.15" />
<path d="M659.5,1243 C655.6,1243.00 655.6,1249.12 659.5,1249.12 C655.6,1249.12 655.6,1255.25 659.5,1255.25 C655.6,1255.25 655.6,1261.38 659.5,1261.38 C655.6,1261.38 655.6,1267.50 659.5,1267.50" fill="none" stroke="#000000" stroke-width="1.15" />
</g>
<g font-family="'Liberation Sans', Arial, sans-serif" font-size="9.7" fill="#000" stroke="#000" stroke-width="0.2" opacity="0.999">
<text transform="translate(36.6,394) scale(0.9,1)">BLK/YEL</text>
<text transform="translate(24,401) scale(0.9,1)" text-anchor="middle">1</text>
<text transform="translate(36.6,408) scale(0.9,1)">VIO</text>
<text transform="translate(24,415) scale(0.9,1)" text-anchor="middle">2</text>
<text transform="translate(36.6,423) scale(0.9,1)">RED/YEL</text>
<text transform="translate(24,430) scale(0.9,1)" text-anchor="middle">3</text>
<text transform="translate(36.6,452) scale(0.9,1)">BLU/RED</text>
<text transform="translate(24,459) scale(0.9,1)" text-anchor="middle">4</text>
<text transform="translate(36.6,524) scale(0.9,1)">BLU/BLK</text>
<text transform="translate(24,531) scale(0.9,1)" text-anchor="middle">5</text>
<text transform="translate(36.6,539) scale(0.9,1)">RED/YEL</text>
<text transform="translate(24,546) scale(0.9,1)" text-anchor="middle">6</text>
<text transform="translate(36.6,553) scale(0.9,1)">BLK</text>
<text transform="translate(24,560) scale(0.9,1)" text-anchor="middle">7</text>
<text transform="translate(36.6,568) scale(0.9,1)">BLK</text>
<text transform="translate(24,575) scale(0.9,1)" text-anchor="middle">8</text>
<text transform="translate(36.6,582) scale(0.9,1)">BLK/GRN</text>
<text transform="translate(24,589) scale(0.9,1)" text-anchor="middle">9</text>
<text transform="translate(36.6,728) scale(0.9,1)">WHT/BLU</text>
<text transform="translate(24,735) scale(0.9,1)" text-anchor="middle">10</text>
<text transform="translate(36.6,786) scale(0.9,1)">RED/BLK</text>
<text transform="translate(24,793) scale(0.9,1)" text-anchor="middle">11</text>
<text transform="translate(36.6,800) scale(0.9,1)">RED/YEL</text>
<text transform="translate(24,807) scale(0.9,1)" text-anchor="middle">12</text>
<text transform="translate(36.6,844) scale(0.9,1)">BLK/YEL</text>
<text transform="translate(24,851) scale(0.9,1)" text-anchor="middle">13</text>
<text transform="translate(36.6,887) scale(0.9,1)">YEL/RED</text>
<text transform="translate(24,894) scale(0.9,1)" text-anchor="middle">14</text>
<text transform="translate(1019.3,423) scale(0.9,1)" text-anchor="end">RED/YEL</text>
<text transform="translate(1030.3,430) scale(0.9,1)">1</text>
<text transform="translate(1019.3,452) scale(0.9,1)" text-anchor="end">BLU/RED</text>
<text transform="translate(1030.3,459) scale(0.9,1)">2</text>
<text transform="translate(1019.3,524) scale(0.9,1)" text-anchor="end">BLU/BLK</text>
<text transform="translate(1030.3,531) scale(0.9,1)">3</text>
<text transform="translate(1019.3,539) scale(0.9,1)" text-anchor="end">RED/YEL</text>
<text transform="translate(1030.3,546) scale(0.9,1)">4</text>
<text transform="translate(1019.3,553) scale(0.9,1)" text-anchor="end">BLK</text>
<text transform="translate(1030.3,560) scale(0.9,1)">5</text>
<text transform="translate(1019.3,568) scale(0.9,1)" text-anchor="end">BLK</text>
<text transform="translate(1030.3,575) scale(0.9,1)">6</text>
<text transform="translate(1019.3,684) scale(0.9,1)" text-anchor="end">WHT/RED</text>
<text transform="translate(1030.3,691) scale(0.9,1)">7</text>
<text transform="translate(1019.3,728) scale(0.9,1)" text-anchor="end">WHT/BLU</text>
<text transform="translate(1030.3,735) scale(0.9,1)">8</text>
<text transform="translate(1019.3,771) scale(0.9,1)" text-anchor="end">WHT/BLK</text>
<text transform="translate(1030.3,778) scale(0.9,1)">9</text>
<text transform="translate(1019.3,800) scale(0.9,1)" text-anchor="end">RED/YEL</text>
<text transform="translate(1030.3,807) scale(0.9,1)">10</text>
<text transform="translate(1019.3,815) scale(0.9,1)" text-anchor="end">BLU/WHT</text>
<text transform="translate(1030.3,822) scale(0.9,1)">11</text>
<text transform="translate(1019.3,829) scale(0.9,1)" text-anchor="end">WHT</text>
<text transform="translate(1030.3,836) scale(0.9,1)">12</text>
<text transform="translate(1019.3,858) scale(0.9,1)" text-anchor="end">BLK/YEL</text>
<text transform="translate(1030.3,865) scale(0.9,1)">13</text>
<text transform="translate(1019.3,887) scale(0.9,1)" text-anchor="end">BLK/RED</text>
<text transform="translate(1030.3,894) scale(0.9,1)">14</text>
<text transform="translate(65.5,74) scale(0.9,1)">NCA</text>
<text transform="translate(65.5,118) scale(0.9,1)">NCA</text>
<text transform="translate(107.8,75) scale(0.9,1)">1</text>
<text transform="translate(107.6,117) scale(0.9,1)">2</text>
<text transform="translate(123.8,74) scale(0.9,1)">RED/WHT</text>
<text transform="translate(123.8,118) scale(0.9,1)">RED</text>
<text transform="translate(13.7,143) scale(0.9,1)">FUEL PUMP</text>
<text transform="translate(13.7,154) scale(0.9,1)">RESISTOR</text>
<text transform="translate(13.7,165) scale(0.9,1)">(RIGHT REAR OF</text>
<text transform="translate(13.7,176) scale(0.9,1)">ENGINE COMPT)</text>
<text transform="translate(390.7,31) scale(0.9,1)">BRN</text>
<text transform="translate(289,46) scale(0.9,1)">RED/</text>
<text transform="translate(289,56) scale(0.9,1)">WHT</text>
<text transform="translate(289,123) scale(0.9,1)">RED/</text>
<text transform="translate(289,134) scale(0.9,1)">WHT</text>
<text transform="translate(331,121) scale(0.9,1)">RED/</text>
<text transform="translate(331,131) scale(0.9,1)">WHT</text>
<text transform="translate(301.5,152) scale(0.9,1)">4</text>
<text transform="translate(342.8,152) scale(0.9,1)">2</text>
<text transform="translate(383.3,162) scale(0.9,1)">FUEL PUMP</text>
<text transform="translate(383.3,173) scale(0.9,1)">RELAY 3</text>
<text transform="translate(383.3,184) scale(0.9,1)">(AT RIGHT SIDE</text>
<text transform="translate(383.3,195) scale(0.9,1)">OF FIREWALL)</text>
<text transform="translate(299.5,217) scale(0.9,1)">3</text>
<text transform="translate(358.3,217) scale(0.9,1)">1</text>
<text transform="translate(287,241) scale(0.9,1)">RED/</text>
<text transform="translate(291.5,251) scale(0.9,1)">BLK</text>
<text transform="translate(348.8,237) scale(0.9,1)">RED</text>
<text transform="translate(333.7,510) scale(0.9,1)">RED</text>
<text transform="translate(392.9,510) scale(0.9,1)">RED</text>
<text transform="translate(614.3,18) scale(0.9,1)">HOT AT ALL TIMES</text>
<text transform="translate(651,35) scale(0.9,1)">DEDICATED</text>
<text transform="translate(651,46) scale(0.9,1)">FUSE 15</text>
<text transform="translate(651,56) scale(0.9,1)">20A</text>
<text transform="translate(709.4,28) scale(0.9,1)">ENGINE</text>
<text transform="translate(709.4,39) scale(0.9,1)">COMPARTMENT</text>
<text transform="translate(709.4,50) scale(0.9,1)">RELAY BOX</text>
<text transform="translate(709.4,61) scale(0.9,1)">(LEFT SIDE OF</text>
<text transform="translate(709.4,71) scale(0.9,1)">ENGINE COMPT)</text>
<text transform="translate(623.7,73) scale(0.9,1)">GRY</text>
<text transform="translate(622.4,155) scale(0.9,1)">WHT</text>
<text transform="translate(635,178) scale(0.9,1)">2</text>
<text transform="translate(652.8,177) scale(0.9,1)">C210</text>
<text transform="translate(794.5,29) scale(0.9,1)">HOT IN ON OR START</text>
<text transform="translate(997.8,42) scale(0.9,1)">JUNCTION</text>
<text transform="translate(997.8,52) scale(0.9,1)">BLOCK</text>
<text transform="translate(997.8,63) scale(0.9,1)">(BEHIND</text>
<text transform="translate(997.8,73) scale(0.9,1)">LEFT</text>
<text transform="translate(997.8,84) scale(0.9,1)">END OF</text>
<text transform="translate(997.8,95) scale(0.9,1)">DASH)</text>
<text transform="translate(839.4,57) scale(0.9,1)">MULTI-</text>
<text transform="translate(839.4,67) scale(0.9,1)">PURPOSE</text>
<text transform="translate(839.4,78) scale(0.9,1)">FUSE 8</text>
<text transform="translate(839.4,88) scale(0.9,1)">7.5A</text>
<text transform="translate(634.7,220) scale(0.9,1)">4</text>
<text transform="translate(677.7,220) scale(0.9,1)">3</text>
<text transform="translate(648.8,290) scale(0.9,1)">1</text>
<text transform="translate(676.7,290) scale(0.9,1)">2</text>
<text transform="translate(723.6,234) scale(0.9,1)">FUEL</text>
<text transform="translate(723.6,245) scale(0.9,1)">PUMP</text>
<text transform="translate(723.6,256) scale(0.9,1)">RELAY</text>
<text transform="translate(723.6,266) scale(0.9,1)">1</text>
<text transform="translate(674,317) scale(0.9,1)">11</text>
<text transform="translate(695.7,316) scale(0.9,1)">C214</text>
<text transform="translate(682,340.2) rotate(-90) scale(0.9,1)">BLK</text>
<text transform="translate(689,372) scale(0.9,1)" text-anchor="middle">G6</text>
<text transform="translate(688,382) scale(0.9,1)" text-anchor="middle">(BEHIND CENTER OF DASH,</text>
<text transform="translate(688,393) scale(0.9,1)" text-anchor="middle">NEAR LEFT CENTER</text>
<text transform="translate(688,403) scale(0.9,1)" text-anchor="middle">REINFORCEMENT)</text>
<text transform="translate(823.8,220) scale(0.9,1)">1</text>
<text transform="translate(895.9,220) scale(0.9,1)">3</text>
<text transform="translate(837.3,290) scale(0.9,1)">4</text>
<text transform="translate(895.2,290) scale(0.9,1)">2</text>
<text transform="translate(806.6,236) scale(0.9,1)" text-anchor="end">FUEL</text>
<text transform="translate(806.6,246) scale(0.9,1)" text-anchor="end">PUMP</text>
<text transform="translate(806.6,257) scale(0.9,1)" text-anchor="end">RELAY</text>
<text transform="translate(806.6,267) scale(0.9,1)" text-anchor="end">2</text>
<text transform="translate(834,318) scale(0.9,1)">13</text>
<text transform="translate(891.8,318) scale(0.9,1)">14</text>
<text transform="translate(914,316) scale(0.9,1)">C214</text>
<text transform="translate(939,318) scale(0.9,1)">1</text>
<text transform="translate(956.7,316) scale(0.9,1)">C210</text>
<text transform="translate(827,336) scale(0.9,1)">BRN</text>
<text transform="translate(887.8,336) scale(0.9,1)">VIO</text>
<text transform="translate(945,347) rotate(-90) scale(0.9,1)">BLU</text>
<text transform="translate(945,413) rotate(-90) scale(0.9,1)">BLK/RED</text>
<text transform="translate(746.3,762) scale(0.9,1)" text-anchor="end">INSTRUMENT</text>
<text transform="translate(746.3,773) scale(0.9,1)" text-anchor="end">CLUSTER</text>
<text transform="translate(746.3,784) scale(0.9,1)" text-anchor="end">SYSTEM</text>
<text transform="translate(776,772) scale(0.9,1)">WHT/BLK</text>
<text transform="translate(889.2,946) scale(0.9,1)">WHT/BLK</text>
<text transform="translate(941.4,946) scale(0.9,1)">1</text>
<text transform="translate(968.9,946) scale(0.9,1)">NCA</text>
<text transform="translate(912.7,990) scale(0.9,1)">BLK</text>
<text transform="translate(940.5,990) scale(0.9,1)">2</text>
<text transform="translate(968.9,990) scale(0.9,1)">NCA</text>
<text transform="translate(1045.8,1011) scale(0.9,1)" text-anchor="end">FUEL LEVEL</text>
<text transform="translate(1045.8,1022) scale(0.9,1)" text-anchor="end">SENSOR (SUB)</text>
<text transform="translate(1045.8,1033) scale(0.9,1)" text-anchor="end">(ON TOP RIGHT</text>
<text transform="translate(1045.8,1043) scale(0.9,1)" text-anchor="end">SIDE OF FUEL</text>
<text transform="translate(1045.8,1054) scale(0.9,1)" text-anchor="end">TANK)</text>
<text transform="translate(843,1024.7) rotate(-90) scale(0.9,1)">RED</text>
<text transform="translate(843,1068.8) rotate(-90) scale(0.9,1)">WHT</text>
<text transform="translate(814,1068.8) rotate(-90) scale(0.9,1)">BLK</text>
<text transform="translate(769,1068.8) rotate(-90) scale(0.9,1)">BLU/WHT</text>
<text transform="translate(764.2,1093) scale(0.9,1)">3</text>
<text transform="translate(807.8,1093) scale(0.9,1)">2</text>
<text transform="translate(837,1093) scale(0.9,1)">5</text>
<text transform="translate(754,1109) scale(0.9,1)" text-anchor="end">FUEL TANK</text>
<text transform="translate(754,1120) scale(0.9,1)" text-anchor="end">TEMPERATURE</text>
<text transform="translate(754,1131) scale(0.9,1)" text-anchor="end">SENSOR</text>
<text transform="translate(754,1141) scale(0.9,1)" text-anchor="end">(ON TOP</text>
<text transform="translate(754,1152) scale(0.9,1)" text-anchor="end">OF FUEL</text>
<text transform="translate(754,1162) scale(0.9,1)" text-anchor="end">TANK)</text>
<text transform="translate(868,1106) scale(0.9,1)">FUEL</text>
<text transform="translate(868,1116) scale(0.9,1)">PUMP</text>
<text transform="translate(868,1127) scale(0.9,1)">&amp; LEVEL</text>
<text transform="translate(868,1138) scale(0.9,1)">SENSOR</text>
<text transform="translate(868,1149) scale(0.9,1)">(MAIN)</text>
<text transform="translate(868,1159) scale(0.9,1)">(IN FUEL</text>
<text transform="translate(868,1170) scale(0.9,1)">TANK)</text>
<text transform="translate(848.8,1141) scale(0.95,1)" text-anchor="middle" font-size="9.5">M</text>
<text transform="translate(764,1188) scale(0.9,1)">2</text>
<text transform="translate(809,1188) scale(0.9,1)">1</text>
<text transform="translate(837,1188) scale(0.9,1)">4</text>
<text transform="translate(773,1213.3) rotate(-90) scale(0.9,1)">BLK</text>
<text transform="translate(816,1213.3) rotate(-90) scale(0.9,1)">BLK</text>
<text transform="translate(845,1213.3) rotate(-90) scale(0.9,1)">BLK</text>
<text transform="translate(797.5,1252) scale(0.9,1)">BLK</text>
<text transform="translate(859,1272) scale(0.9,1)">G2</text>
<text transform="translate(859,1283) scale(0.9,1)">(AT RIGHT</text>
<text transform="translate(859,1293) scale(0.9,1)">&quot;A&quot; PILLAR)</text>
<text transform="translate(116.6,1090) scale(0.9,1)">BLK</text>
<text transform="translate(54,1145.5) rotate(-90) scale(0.9,1)">BLK</text>
<text transform="translate(140,1141) rotate(-90) scale(0.9,1)">BLK</text>
<text transform="translate(170,1143.5) rotate(-90) scale(0.9,1)">WHT</text>
<text transform="translate(43.3,1185) scale(0.9,1)">G4</text>
<text transform="translate(43.3,1196) scale(0.9,1)">(LEFT SIDE</text>
<text transform="translate(43.3,1207) scale(0.9,1)">OF ENGINE</text>
<text transform="translate(43.3,1217) scale(0.9,1)">COMPT)</text>
<text transform="translate(186,1164) scale(0.9,1)">KNOCK</text>
<text transform="translate(186,1174) scale(0.9,1)">SENSOR</text>
<text transform="translate(186,1185) scale(0.9,1)">(ON RIGHT</text>
<text transform="translate(186,1196) scale(0.9,1)">SIDE OF</text>
<text transform="translate(186,1207) scale(0.9,1)">ENGINE</text>
<text transform="translate(186,1217) scale(0.9,1)">BLOCK)</text>
<text transform="translate(281.5,1245) scale(0.9,1)" text-anchor="middle">G11</text>
<text transform="translate(282.3,1256) scale(0.9,1)" text-anchor="middle">(AT REAR OF ENGINE,</text>
<text transform="translate(282.7,1266) scale(0.9,1)" text-anchor="middle">BELOW CYLINDER HEAD)</text>
<text transform="translate(280,1203) rotate(-90) scale(0.9,1)">BLK</text>
<text transform="translate(412.5,1120) scale(0.9,1)">BLK</text>
<text transform="translate(398.3,1244) scale(0.9,1)" text-anchor="middle">G4</text>
<text transform="translate(397.7,1255) scale(0.9,1)" text-anchor="middle">(LEFT SIDE OF</text>
<text transform="translate(398.5,1265) scale(0.9,1)" text-anchor="middle">ENGINE COMPT)</text>
<text transform="translate(396,1202.5) rotate(-90) scale(0.9,1)">BLK</text>
<text transform="translate(627,1074) rotate(-90) scale(0.9,1)">WHT/RED</text>
<text transform="translate(447.5,1223) scale(0.9,1)">2</text>
<text transform="translate(462.7,1223) scale(0.9,1)">3</text>
<text transform="translate(490.8,1223) scale(0.9,1)">1</text>
<text transform="translate(538.25,1151) scale(0.9,1)" text-anchor="middle">SPARK</text>
<text transform="translate(538.25,1162) scale(0.9,1)" text-anchor="middle">PLUGS</text>
<text transform="translate(527,1213.5) rotate(-90) scale(0.9,1)">NCA</text>
<text transform="translate(541,1213.5) rotate(-90) scale(0.9,1)">NCA</text>
<text transform="translate(453,1202.5) rotate(-90) scale(0.9,1)">BLK</text>
<text transform="translate(468,1197.6) rotate(-90) scale(0.9,1)">BLK/GRN</text>
<text transform="translate(497,1200) rotate(-90) scale(0.9,1)">WHT/RED</text>
<text transform="translate(500.5,1296) scale(0.9,1)" text-anchor="middle">IGNITION COIL 2</text>
<text transform="translate(500.3,1307) scale(0.9,1)" text-anchor="middle">(TOP FRONT OF ENGINE)</text>
<text transform="translate(577.5,1223) scale(0.9,1)">2</text>
<text transform="translate(592.7,1223) scale(0.9,1)">3</text>
<text transform="translate(620.8,1223) scale(0.9,1)">1</text>
<text transform="translate(668.25,1151) scale(0.9,1)" text-anchor="middle">SPARK</text>
<text transform="translate(668.25,1162) scale(0.9,1)" text-anchor="middle">PLUGS</text>
<text transform="translate(657,1213.5) rotate(-90) scale(0.9,1)">NCA</text>
<text transform="translate(671,1213.5) rotate(-90) scale(0.9,1)">NCA</text>
<text transform="translate(583,1202.5) rotate(-90) scale(0.9,1)">BLK</text>
<text transform="translate(598,1196.6) rotate(-90) scale(0.9,1)">BLK/YEL</text>
<text transform="translate(627,1205.5) rotate(-90) scale(0.9,1)">WHT/RED</text>
<text transform="translate(632.2,1296) scale(0.9,1)" text-anchor="middle">IGNITION COIL 1</text>
<text transform="translate(632.3,1307) scale(0.9,1)" text-anchor="middle">(AT REAR OF ENGINE)</text>
<text transform="translate(13.5,1306) scale(0.9,1)">214475</text>
</g>
<g shape-rendering="crispEdges">
<rect x="49" y="1125" width="2" height="25" fill="#282828"/>
<rect x="136" y="1120" width="2" height="25" fill="#282828"/>
<rect x="165" y="1120" width="2" height="28" fill="#c8c8c8"/>
</g>
</svg>
</body></html>
